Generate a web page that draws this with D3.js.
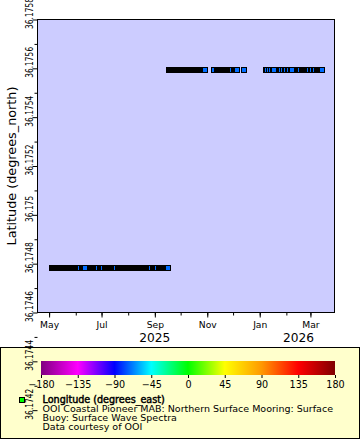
<!DOCTYPE html>
<html>
<head>
<meta charset="utf-8">
<script src="https://cdn.jsdelivr.net/npm/d3@7"></script>
<style>
  body { margin: 0; background: #fff; }
  svg { display: block; font-family: "DejaVu Sans", sans-serif; }
</style>
</head>
<body>
<svg id="chart" width="360" height="440"></svg>
<script>
const runStart = [
    "2025-05-04T10:00Z", "2025-06-08T07:00Z", "2025-06-18T17:00Z", "2025-06-29T05:00Z",
    "2025-07-05T00:00Z", "2025-07-20T05:00Z", "2025-08-29T22:00Z", "2025-09-05T19:00Z",
    "2025-09-17T10:00Z", "2025-11-08T19:00Z", "2025-11-12T07:00Z", "2025-12-02T02:00Z",
    "2025-12-13T17:00Z", "2026-01-08T07:00Z", "2026-01-11T19:00Z", "2026-01-14T02:00Z",
    "2026-01-16T10:00Z", "2026-01-24T14:00Z", "2026-01-28T02:00Z", "2026-01-30T10:00Z",
    "2026-02-02T22:00Z", "2026-02-06T10:00Z", "2026-02-13T10:00Z", "2026-02-19T05:00Z",
    "2026-03-01T17:00Z", "2026-03-05T05:00Z", "2026-03-08T14:00Z"];
const runEnd = [
    "2025-06-05T22:00Z", "2025-06-11T19:00Z", "2025-06-26T22:00Z", "2025-07-02T17:00Z",
    "2025-07-17T19:00Z", "2025-08-27T12:00Z", "2025-09-03T12:00Z", "2025-09-16T07:00Z",
    "2025-10-29T07:00Z", "2025-11-08T19:00Z", "2025-11-29T19:00Z", "2025-12-05T14:00Z",
    "2025-12-13T17:00Z", "2026-01-09T12:00Z", "2026-01-11T19:00Z", "2026-01-14T02:00Z",
    "2026-01-17T14:00Z", "2026-01-25T19:00Z", "2026-01-28T02:00Z", "2026-01-31T14:00Z",
    "2026-02-04T02:00Z", "2026-02-07T12:00Z", "2026-02-16T22:00Z", "2026-02-27T10:00Z",
    "2026-03-02T19:00Z", "2026-03-06T07:00Z", "2026-03-14T12:00Z"];
const runLat = [
    36.17478, 36.17478, 36.17478, 36.17478, 36.17478, 36.17478, 36.17478, 36.17478,
    36.17559, 36.17559, 36.17559, 36.17559, 36.17559, 36.17559, 36.17559, 36.17559,
    36.17559, 36.17559, 36.17559, 36.17559, 36.17559, 36.17559, 36.17559, 36.17559,
    36.17559, 36.17559, 36.17559];
const buoyLon = -70.88;

const latTicks = [36.1742, 36.1744, 36.1746, 36.1748, 36.175, 36.1752, 36.1754, 36.1756, 36.1758];
const latMinor = [36.1743, 36.1745, 36.1747, 36.1749, 36.1751, 36.1753, 36.1755, 36.1757];
const yearNames = ["2025", "2026"];
const yearAt = ["2025-09-01T00:00Z", "2026-02-15T00:00Z"];

const paletteStops = [-180, -135, -90, -45, 0, 45, 90, 135, 180];
const paletteColors = ["#800080", "#ff00ff", "#0000ff", "#00ffff", "#00ff00",
    "#ffff00", "#ff9900", "#ff0000", "#800000"];

const legendTitle = "Longitude (degrees_east)";
const legendLines = [
    "OOI Coastal Pioneer MAB: Northern Surface Mooring: Surface",
    "Buoy: Surface Wave Spectra",
    "Data courtesy of OOI"];

let svg = d3.select("#chart");
let pLeft = 37.5, pRight = 334.5, pTop = 19.5, pBottom = 312.5;

let x = d3.scaleUtc()
    .domain([new Date("2025-04-17T12:00Z"), new Date("2026-03-29T00:00Z")])
    .range([pLeft, pRight]);
let y = d3.scaleLinear().domain([36.1746, 36.1758]).range([pBottom, pTop]);
let color = d3.scaleLinear().domain(paletteStops).range(paletteColors);

svg.append("rect").attr("width", 360).attr("height", 440).attr("fill", "#fff");

// plot area
svg.append("rect")
    .attr("x", pLeft).attr("y", pTop)
    .attr("width", pRight - pLeft).attr("height", pBottom - pTop)
    .attr("fill", "#ccccff");

// data runs: black outlines pile up, the last marker of each run shows its fill
let runs = runStart.map(function (s, i) {
    return {s: new Date(s), e: new Date(runEnd[i]), lat: runLat[i]};
});
let rg = svg.append("g").attr("shape-rendering", "crispEdges");
let groups = rg.selectAll("g").data(runs).enter().append("g");
groups.append("rect")
    .attr("x", d => Math.round(x(d.s)) - 3)
    .attr("y", d => Math.floor(y(d.lat)) - 3)
    .attr("width", d => Math.round(x(d.e)) - Math.round(x(d.s)) + 6)
    .attr("height", 6)
    .attr("fill", "#000");
groups.append("rect")
    .attr("x", d => Math.round(x(d.e)) - 2)
    .attr("y", d => Math.floor(y(d.lat)) - 2)
    .attr("width", 4).attr("height", 4)
    .attr("fill", color(buoyLon));

svg.append("rect")
    .attr("x", pLeft).attr("y", pTop)
    .attr("width", pRight - pLeft).attr("height", pBottom - pTop)
    .attr("fill", "none").attr("stroke", "#000");

// x axis
let xMajor = svg.append("g").attr("transform", "translate(0," + pBottom + ")")
    .call(d3.axisBottom(x).ticks(d3.utcMonth.every(2))
        .tickFormat(d3.utcFormat("%b")).tickSize(5).tickPadding(5));
let xMinor = svg.append("g").attr("transform", "translate(0," + pBottom + ")")
    .call(d3.axisBottom(x).ticks(d3.utcMonth.every(1)).tickFormat("").tickSize(3));
[xMajor, xMinor].forEach(function (g) {
    g.select(".domain").remove();
    g.selectAll("line").attr("stroke", "#000");
});
xMajor.selectAll("text")
    .attr("font-family", "DejaVu Sans").attr("font-size", 9.2)
    .attr("fill", "#000").attr("dy", 0).attr("y", 15);

svg.selectAll(".year").data(yearNames).enter().append("text")
    .attr("class", "year")
    .attr("x", (d, i) => x(new Date(yearAt[i])))
    .attr("y", 342)
    .attr("text-anchor", "middle")
    .attr("font-size", 12.2)
    .text(d => d);

// legend box
let lg = svg.append("g");
lg.append("rect")
    .attr("x", 0.5).attr("y", 347.5).attr("width", 359).attr("height", 91)
    .attr("fill", "#ffffcc").attr("stroke", "#000");

let cScale = d3.scaleLinear().domain([-180, 180]).range([41, 335]);
let grad = svg.append("defs").append("linearGradient").attr("id", "pal");
grad.selectAll("stop").data(paletteStops).enter().append("stop")
    .attr("offset", d => (d + 180) / 360)
    .attr("stop-color", (d, i) => paletteColors[i]);
lg.append("rect")
    .attr("x", cScale(-180)).attr("y", 361)
    .attr("width", cScale(180) - cScale(-180)).attr("height", 14)
    .attr("fill", "url(#pal)");
let cAxis = lg.append("g").attr("transform", "translate(0,375)")
    .call(d3.axisBottom(cScale).tickValues(paletteStops).tickSize(3).tickPadding(3)
        .tickFormat(d3.format("d")));
cAxis.select(".domain").remove();
cAxis.selectAll("line").attr("stroke", "#000");
cAxis.selectAll("text")
    .attr("font-family", "DejaVu Sans").attr("font-size", 9.6)
    .attr("fill", "#000").attr("dy", 0).attr("y", 13);

lg.append("rect")
    .attr("x", 19.5).attr("y", 397.5).attr("width", 5).attr("height", 5)
    .attr("fill", color(0)).attr("stroke", "#000");
// title is a smeared regular face, so it keeps the regular widths
lg.append("text")
    .attr("x", 42.5).attr("y", 403)
    .attr("font-size", 9.6)
    .attr("stroke", "#000").attr("stroke-width", 0.45)
    .text(legendTitle);
lg.selectAll(".line").data(legendLines).enter().append("text")
    .attr("class", "line")
    .attr("x", 42.5).attr("y", (d, i) => 412.3 + i * 9)
    .attr("font-size", 9.5)
    .text(d => d);

// y axis, drawn last: ticks run on past the plot into the legend
let yMajor = svg.append("g").attr("transform", "translate(" + pLeft + ",0)")
    .call(d3.axisLeft(y).tickValues(latTicks).tickSize(5)
        .tickFormat(d3.format(".6~g")));
let yMinor = svg.append("g").attr("transform", "translate(" + pLeft + ",0)")
    .call(d3.axisLeft(y).tickValues(latMinor).tickSize(3).tickFormat(""));
[yMajor, yMinor].forEach(function (g) {
    g.select(".domain").remove();
    g.selectAll("line").attr("stroke", "#000");
});
yMajor.selectAll("text")
    .attr("font-family", "DejaVu Sans").attr("font-size", 9.6)
    .attr("fill", "#000")
    .attr("x", 0).attr("dy", 0)
    .attr("text-anchor", "middle")
    .attr("transform", "translate(-4.2,-6.5) rotate(-90)")
    .each(function () {
        // the original's rotated labels are set narrower than the horizontal ones
        let len = this.getComputedTextLength();
        d3.select(this).attr("textLength", len * 0.78).attr("lengthAdjust", "spacingAndGlyphs");
    });

svg.append("text")
    .attr("transform", "translate(16," + ((pTop + pBottom) / 2) + ") rotate(-90)")
    .attr("text-anchor", "middle")
    .attr("font-size", 12.8)
    .text("Latitude (degrees_north)");
</script>
</body>
</html>
